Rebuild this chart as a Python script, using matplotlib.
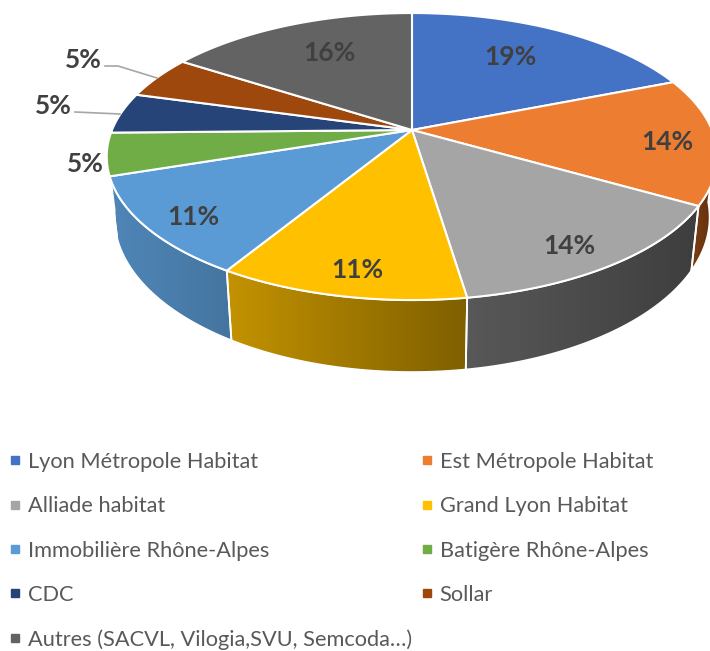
import numpy as np
from matplotlib import pyplot as plt
from matplotlib.colors import to_rgb
from matplotlib.lines import Line2D
from matplotlib.patches import Polygon

plt.rcParams['font.family'] = ['Lato', 'DejaVu Sans']

names = ["Lyon Métropole Habitat", "Est Métropole Habitat", "Alliade habitat", "Grand Lyon Habitat",
         "Immobilière Rhône-Alpes", "Batigère Rhône-Alpes", "CDC", "Sollar",
         "Autres (SACVL, Vilogia,SVU, Semcoda…)"]
# parts (les étiquettes sont arrondies)
shares = [19.0, 14.3, 14.3, 11.1, 11.2, 4.8, 4.6, 4.8, 15.9]
labels = ["19%", "14%", "14%", "11%", "11%", "5%", "5%", "5%", "16%"]
colors = ['#4472C4', '#ED7D31', '#A5A5A5', '#FFC000', '#5B9BD5', '#70AD47', '#264478', '#9E480E', '#636363']
wall_left = ['#4472C4', '#7C3F12', '#585858', '#C39200', '#4F86B8', '#70AD47', '#264478', '#9E480E', '#636363']
wall_right = ['#4472C4', '#5C2E0D', '#3E3E3E', '#7F6000', '#44759F', '#70AD47', '#264478', '#9E480E', '#636363']
label_pos = [(510, 57), (667, 142), (569, 246), (357, 270), (193, 217), (85, 164), (53, 106), (83, 60), (329, 53)]

# parametres de la projection (pixels)
cx, cy = 412, 130
rx, ry = 300, 138.6
persp = 0.185
depth = 58.7
shrink = 0.975


def top_edge(theta):
    w = 1 + persp * np.cos(theta)
    return cx + rx * np.sin(theta) / w, cy - ry * np.cos(theta) / w


def bottom_edge(theta):
    w = 1 + persp * np.cos(theta)
    x, y = top_edge(theta)
    return cx + (x - cx) * shrink, y + depth / w


fig = plt.figure(figsize=(7.10, 6.51), dpi=100)
ax = fig.add_axes([0, 0, 1, 1])

limits = np.radians(np.concatenate([[0], np.cumsum(shares)]) * 3.6)

# flancs d'abord
for i in range(len(shares)):
    th = np.linspace(limits[i], limits[i + 1], 80)
    # seule la partie avant du flanc est visible
    th = th[(th > np.radians(95)) & (th < np.radians(262))]
    if len(th) < 2:
        continue
    xt, yt = top_edge(th)
    xb, yb = bottom_edge(th)
    px = np.concatenate([xt, xb[::-1]])
    py = np.concatenate([yt, yb[::-1]])
    poly = Polygon(np.column_stack([px, py]), closed=True, facecolor='none', edgecolor='none', transform=ax.transData)
    ax.add_patch(poly)
    grad = np.linspace(0, 1, 64)[None, :, None]
    img = (1 - grad) * np.array(to_rgb(wall_left[i])) + grad * np.array(to_rgb(wall_right[i]))
    im = ax.imshow(img, extent=[px.min(), px.max(), py.max(), py.min()], aspect='auto', zorder=1)
    im.set_clip_path(poly)
    ax.add_patch(Polygon(np.column_stack([px, py]), closed=True, facecolor='none', edgecolor='white', linewidth=1.3, zorder=2))

# dessus du camembert
for i in range(len(shares)):
    th = np.linspace(limits[i], limits[i + 1], 80)
    xt, yt = top_edge(th)
    px = np.concatenate([[cx], xt])
    py = np.concatenate([[cy], yt])
    ax.add_patch(Polygon(np.column_stack([px, py]), closed=True, facecolor=colors[i], edgecolor='white', linewidth=1.5, zorder=3))

# traits de rappel
ax.plot([105, 118, 157], [66, 66, 78], color='#A6A6A6', linewidth=1.2, zorder=4)
ax.plot([75, 120], [112, 114], color='#A6A6A6', linewidth=1.2, zorder=4)

for lab, pos in zip(labels, label_pos):
    ax.text(pos[0], pos[1], lab, fontsize=19, fontweight='bold', color='#404040', ha='center', va='center', zorder=5)

ax.set_xlim(0, 710)
ax.set_ylim(651, 0)
ax.axis('off')

# legende : ordre ligne par ligne comme l'original
handles = [Line2D([], [], linestyle='none', marker='s', markersize=6, color=c) for c in colors]
order = [0, 2, 4, 6, 8, 1, 3, 5, 7]
ax.legend([handles[i] for i in order], [names[i] for i in order], ncols=2,
          loc='upper left', bbox_to_anchor=(0.012, 0.306), frameon=False,
          fontsize=15.7, labelcolor='#595959', labelspacing=1.12, columnspacing=0.4,
          handlelength=0.6, handletextpad=0.28, borderpad=0, borderaxespad=0)

plt.savefig("out.png", dpi=100)
plt.close()
